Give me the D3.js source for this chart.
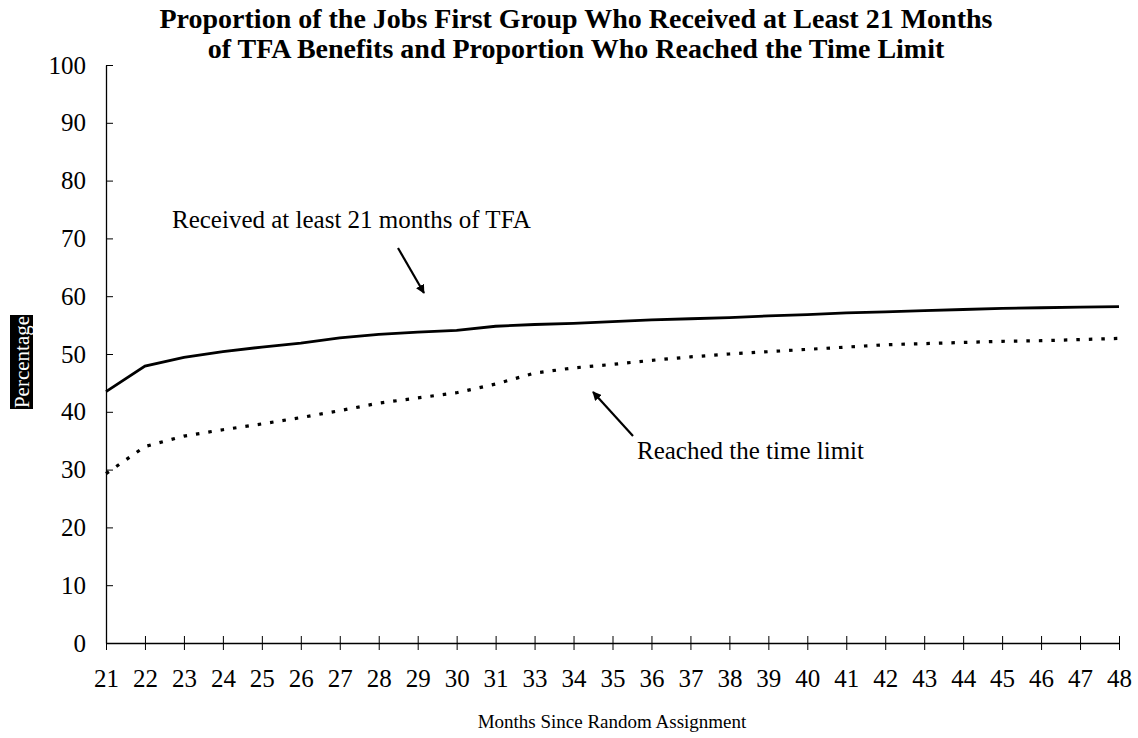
<!DOCTYPE html>
<html>
<head>
<meta charset="utf-8">
<script src="https://cdn.jsdelivr.net/npm/d3@7"></script>
<style>
  body { margin: 0; background: #fff; }
  svg { font-family: "Liberation Serif", "Times New Roman", serif; }
</style>
</head>
<body>
<div id="chart"></div>
<script>
// months since random assignment (32 is skipped in the original)
var months = ["21","22","23","24","25","26","27","28","29","30","31","33","34","35",
              "36","37","38","39","40","41","42","43","44","45","46","47","48"];
var received = [43.5,47.9,49.4,50.4,51.2,51.9,52.8,53.4,53.8,54.1,54.8,55.1,55.3,55.6,
                55.9,56.1,56.3,56.6,56.8,57.1,57.3,57.5,57.7,57.9,58.0,58.1,58.2];
var reached = [29.3,34.0,35.8,36.9,37.9,39.0,40.2,41.5,42.4,43.3,44.8,46.7,47.6,48.2,
               48.9,49.5,50.0,50.4,50.8,51.2,51.6,51.8,52.0,52.2,52.3,52.5,52.7];
var yTicks = [0,10,20,30,40,50,60,70,80,90,100];

var W = 1138, H = 738;
var margin = {top: 65, right: 19, bottom: 95, left: 106};
var width = W - margin.left - margin.right,
    height = H - margin.top - margin.bottom;

var svg = d3.select('#chart').append('svg')
    .attr('width', W)
    .attr('height', H);

svg.append('defs').append('marker')
    .attr('id', 'arrow')
    .attr('viewBox', '0 0 10 10')
    .attr('refX', 9).attr('refY', 5)
    .attr('markerWidth', 9).attr('markerHeight', 9)
    .attr('markerUnits', 'userSpaceOnUse')
    .attr('orient', 'auto')
  .append('path')
    .attr('d', 'M0,0 L10,5 L0,10 z')
    .attr('fill', '#000');

var g = svg.append('g')
    .attr('transform', 'translate(' + margin.left + ',' + margin.top + ')');

var x = d3.scalePoint().domain(months).range([0, width]);
var y = d3.scaleLinear().domain([0, 100]).range([height, 0]);

// title
var title = svg.append('text')
    .attr('text-anchor', 'middle')
    .attr('font-weight', 'bold')
    .attr('font-size', 28);
title.append('tspan').attr('x', 576).attr('y', 28)
    .text('Proportion of the Jobs First Group Who Received at Least 21 Months');
title.append('tspan').attr('x', 576).attr('y', 58)
    .text('of TFA Benefits and Proportion Who Reached the Time Limit');

// y axis, ticks cross the line
var yAxis = g.append('g')
    .call(d3.axisLeft(y).tickValues(yTicks).tickSize(7).tickSizeOuter(0).tickPadding(12));
yAxis.selectAll('.tick line').attr('x2', 7);
yAxis.selectAll('.tick text').attr('font-size', 25).attr('font-family', 'Liberation Serif')
    .attr('x', -20);
yAxis.select('.domain').attr('stroke-width', 1.3);

// x axis
var xAxis = g.append('g')
    .attr('transform', 'translate(0,' + height + ')')
    .call(d3.axisBottom(x).tickSize(7).tickSizeOuter(0));
xAxis.selectAll('.tick line').attr('y1', -7);
xAxis.selectAll('.tick text').attr('font-size', 25).attr('font-family', 'Liberation Serif')
    .attr('y', 44).attr('dy', 0);
xAxis.select('.domain').attr('stroke-width', 1.3);

// y label: white text on black box
var ylab = svg.append('g').attr('transform', 'translate(21.5,362) rotate(-90)');
ylab.append('rect')
    .attr('x', -47).attr('y', -11.5)
    .attr('width', 94).attr('height', 23)
    .attr('fill', '#000');
ylab.append('text')
    .attr('text-anchor', 'middle')
    .attr('dy', '0.35em')
    .attr('font-size', 21)
    .attr('fill', '#fff')
    .text('Percentage');

// x label
svg.append('text')
    .attr('x', 612).attr('y', 728)
    .attr('text-anchor', 'middle')
    .attr('font-size', 19)
    .text('Months Since Random Assignment');

var line = d3.line()
    .x(function(d, i) { return x(months[i]); })
    .y(function(d) { return y(d); });

g.append('path')
    .datum(received)
    .attr('d', line)
    .attr('fill', 'none')
    .attr('stroke', '#000')
    .attr('stroke-width', 2.8);

g.append('path')
    .datum(reached)
    .attr('d', line)
    .attr('fill', 'none')
    .attr('stroke', '#000')
    .attr('stroke-width', 3.2)
    .attr('stroke-dasharray', '3.5,9');

// annotations
svg.append('text')
    .attr('x', 172).attr('y', 228)
    .attr('font-size', 25)
    .text('Received at least 21 months of TFA');
svg.append('line')
    .attr('x1', 398).attr('y1', 248)
    .attr('x2', 424).attr('y2', 293)
    .attr('stroke', '#000').attr('stroke-width', 2.2)
    .attr('marker-end', 'url(#arrow)');

svg.append('text')
    .attr('x', 637).attr('y', 459)
    .attr('font-size', 25)
    .text('Reached the time limit');
svg.append('line')
    .attr('x1', 633).attr('y1', 436)
    .attr('x2', 593).attr('y2', 392)
    .attr('stroke', '#000').attr('stroke-width', 2.2)
    .attr('marker-end', 'url(#arrow)');
</script>
</body>
</html>
